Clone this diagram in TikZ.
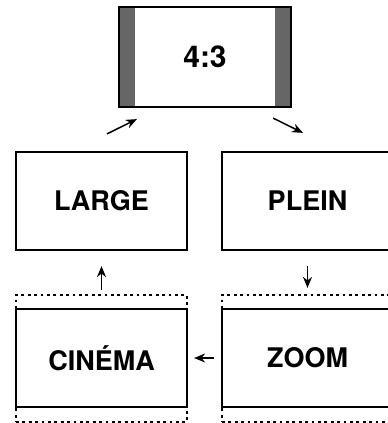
\documentclass[tikz,border=0pt]{standalone}
\usepackage{fontspec}
\setmainfont{TeX Gyre Heros}
\usetikzlibrary{arrows.meta,positioning,calc}
\definecolor{bargray}{HTML}{666666}

\begin{document}
\begin{tikzpicture}[x=1pt,y=-1pt,font=\fontsize{27}{30}\selectfont\bfseries]
    \tikzstyle{screen}=[draw,line width=2.2pt,minimum width=171pt,minimum height=98pt,inner sep=0pt]
    \tikzstyle{frame}=[draw,line width=2.2pt,dash pattern=on 2.8pt off 3.6pt,minimum width=171pt,minimum height=127pt,inner sep=0pt]
    \tikzstyle{arr}=[line width=1.5pt,-{Stealth[length=11pt,width=9pt]}]
    \useasboundingbox (0,0) rectangle (388,423);
    % 4:3 screen with side bars
    \node[screen,minimum width=172pt,minimum height=100pt] (ratio) at (205,57) {};
    \fill[bargray] (ratio.north west) rectangle ++(17,100);
    \fill[bargray] (ratio.north east) rectangle ++(-17,100);
    \node[screen,minimum width=172pt,minimum height=100pt] at (205,57) {\fontsize{30}{34}\selectfont 4:3};
    \node[screen] (large) at (101.5,201) {LARGE};
    \node[screen] (plein) at (307.5,201) {PLEIN};
    \node[screen] (cine)  at (101.5,358) {CINÉMA};
    \node[screen] (zoom)  at (307.5,358) {ZOOM};
    \node[frame] (cineframe) at (101.5,358.5) {};
    \node[frame] (zoomframe) at (307.5,358.5) {};
    % diagonal arrow ends
    \coordinate (up0) at ($(large.north)+(5.5,-17)$);
    \coordinate (up1) at ($(ratio.south west)+(19,11)$);
    \coordinate (dn0) at ($(ratio.south east)+(-19,10)$);
    \coordinate (dn1) at ($(plein.north)+(-4.5,-18)$);
    \draw[arr] (up0) -- (up1);
    \draw[arr] (dn0) -- (dn1);
    \draw[arr,shorten <=15pt,shorten >=6pt] (plein) -- (zoomframe);
    \draw[arr,shorten <=7pt,shorten >=6pt] (zoom) -- (cine);
    \draw[arr,shorten <=4pt,shorten >=15pt] (cineframe) -- (large);
\end{tikzpicture}
\end{document}
